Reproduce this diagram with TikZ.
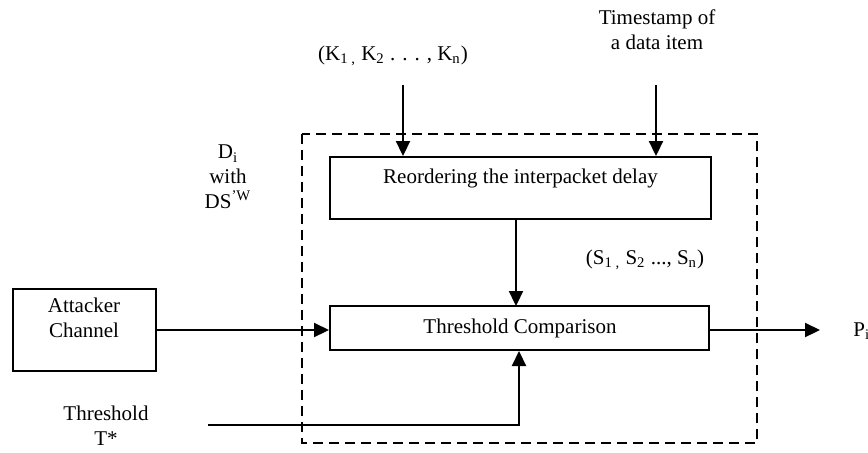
\documentclass[tikz,border=0pt]{standalone}
\usepackage{fontspec}
\setmainfont{Liberation Serif}
\usetikzlibrary{arrows.meta}
\begin{document}
\begin{tikzpicture}[x=0.5pt,y=-0.5pt,
  every node/.style={font=\fontsize{10.5pt}{12.5pt}\selectfont},
  blk/.style={draw,line width=1pt,inner sep=0pt},
  conn/.style={line width=1.1pt,-{Triangle[length=7.5pt,width=7pt]}},
  lbl/.style={align=center,inner sep=0pt}]
\useasboundingbox (0,0) rectangle (868,452);
% dashed enclosure
\draw[line width=0.8pt,dash pattern=on 5pt off 3pt] (302,134) rectangle (757,443);
% blocks
\node[blk,minimum width=381pt*0.5,minimum height=62pt*0.5] (reo) at (520.5,188) {};
\node[lbl] at (520.5,178) {Reordering the interpacket delay};
\node[blk,minimum width=379pt*0.5,minimum height=44pt*0.5] (thr) at (519.5,328) {};
\node[lbl] at (520,328) {Threshold Comparison};
\node[blk,minimum width=143pt*0.5,minimum height=82pt*0.5,align=center] (att) at (84,329.5) {};
\node[lbl] at (84,318) {Attacker\\Channel};
% labels
\node[lbl] (k) at (393,56) {(K\textsubscript{1 ,} K\textsubscript{2} . . . , K\textsubscript{n})};
\node[lbl] (ts) at (657,30) {Timestamp of\\a data item};
\node[lbl] (di) at (228,177) {D\textsubscript{i}\\with\\DS\textsuperscript{'W}};
\node[lbl] (s) at (645,260) {(S\textsubscript{1 ,} S\textsubscript{2} ..., S\textsubscript{n})};
\node[lbl] (th) at (106,426) {Threshold\\T*};
\node[lbl,anchor=west] (p) at (853,331) {P\textsubscript{i}};
% coordinates
\coordinate (ktop) at (403,85);
\coordinate (tstop) at (656,85);
\coordinate (thl) at (208,425);
\coordinate (thc) at (519,425);
\coordinate (pout) at (820,330);
% connectors
\draw[conn] (ktop) -- (ktop |- reo.north);
\draw[conn] (tstop) -- (tstop |- reo.north);
\draw[conn] (516,219) -- (516,306);
\draw[conn] (att.east |- 0,330) -- (thr.west |- 0,330);
\draw[conn] (thr.east |- 0,330) -- (pout);
\draw[conn] (thl) -- (thc) -- (thr.south -| thc);
\end{tikzpicture}
\end{document}
